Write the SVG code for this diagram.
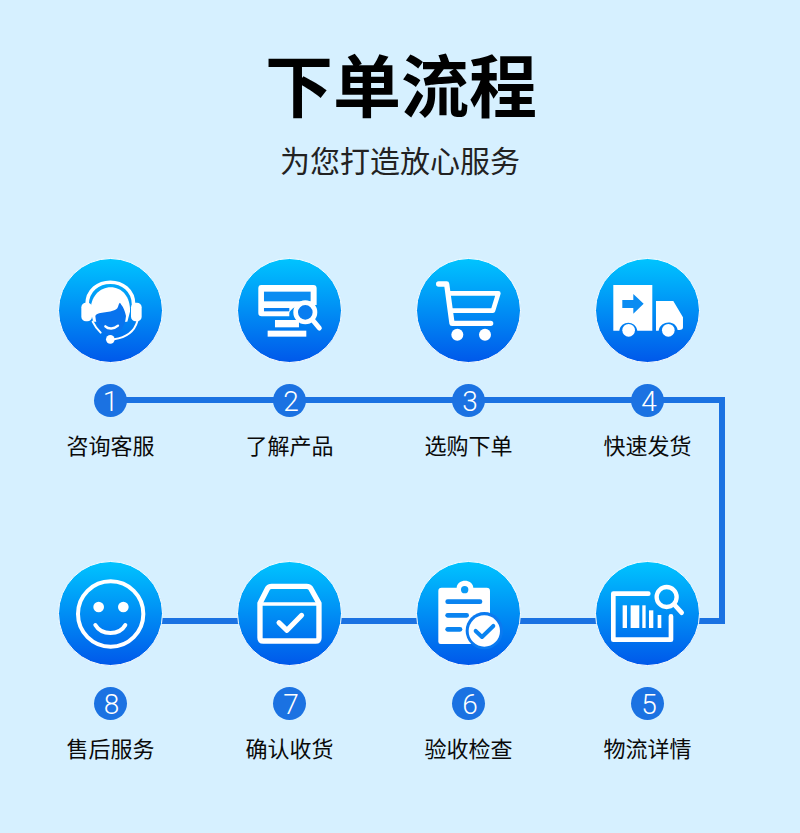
<svg xmlns="http://www.w3.org/2000/svg" width="800" height="833" viewBox="0 0 800 833">
<defs>
<linearGradient id="g" x1="0" y1="0" x2="0" y2="1"><stop offset="0" stop-color="#00c4ff"/><stop offset="1" stop-color="#0058ea"/></linearGradient>
</defs>
<style>
.big{fill:url(#g);stroke:#fff;stroke-width:1}
.num{fill:#1b72e2}
.n{font-family:"Roboto",sans-serif;font-weight:300;font-size:28px;fill:#fff;text-anchor:middle}
.l{font-family:"Noto Sans CJK SC",sans-serif;font-size:22px;fill:#0a0a0a;text-anchor:middle}
.w{fill:#fff}
.s{fill:none;stroke:#fff;stroke-linecap:round;stroke-linejoin:round}
.b{fill:none;stroke:#0a84f0;stroke-linecap:round;stroke-linejoin:round}
</style>
<rect width="800" height="833" fill="#d6f0ff"/>
<text x="401" y="112" text-anchor="middle" font-family="'Noto Sans CJK SC',sans-serif" font-weight="700" font-size="68" fill="#000">下单流程</text>
<text x="400" y="172" text-anchor="middle" font-family="'Noto Sans CJK SC',sans-serif" font-weight="400" font-size="30" fill="#222">为您打造放心服务</text>
<g id="connectors" fill="none" stroke="#1b72e2" stroke-width="6">
<path d="M110 400H722V621H110"/>
</g>
<g id="node1"><circle class="big" cx="110.500" cy="310.500" r="52"/>
<g transform="translate(40,240) scale(.3333)">
<path class="s" stroke-width="11" d="M141 195C141 104 281 104 281 195"/>
<rect class="w" x="124" y="188" width="32" height="56" rx="14"/><rect class="w" x="273" y="188" width="32" height="56" rx="14"/>
<path class="w" d="M152 215C150 170 180 142 212 142C245 142 272 170 270 215L262 245L160 245Z"/>
<path fill="#0873ee" d="M166 228C175 212 215 222 232 205C236 197 236 190 240 188C245 196 254 205 258 228C256 264 232 286 211 286C190 286 168 264 166 228Z"/>
<path class="s" stroke-width="7" d="M196 259C205 268 222 268 234 257"/>
<path class="s" stroke-width="6" d="M292 244C282 280 255 293 222 298"/>
<circle class="w" cx="211" cy="298" r="13"/>
<path class="s" stroke-width="6" d="M158 245C164 258 172 268 182 278"/>
</g></g>
<g id="node2"><circle class="big" cx="289.500" cy="310.500" r="52"/>
<g transform="translate(40,240) scale(.3333)">
<path class="w" d="M664 135H820Q830 135 830 145V195H790C770 195 755 205 748 218V229H665Q655 229 655 219V145Q655 135 664 135Z"/>
<rect x="672" y="155" width="140" height="29" fill="#0a8cf2"/>
<rect x="672" y="204" width="76" height="10" fill="#0a7ff0"/>
<rect class="w" x="705" y="240" width="72" height="22"/>
<rect class="w" x="683" y="272" width="116" height="18"/>
<circle cx="796" cy="217" r="29" fill="#0a7df0" stroke="#fff" stroke-width="14"/>
<path class="s" stroke-width="15" d="M818 240L838 264" stroke-linecap="butt"/>
</g></g>
<g id="node3"><circle class="big" cx="468.500" cy="310.500" r="52"/>
<g transform="translate(400,240) scale(.3333)">
<path class="s" stroke-width="16" d="M116 132H140L156 250H272"/>
<path class="s" stroke-width="14" d="M148 160H295L279 212H156"/>
<circle class="w" cx="172" cy="284" r="18"/><circle class="w" cx="255" cy="284" r="18"/>
</g></g>
<g id="node4"><circle class="big" cx="647.500" cy="310.500" r="52"/>
<g transform="translate(400,240) scale(.3333)">
<path class="w" d="M640 135H757V272H712C708 240 662 240 658 272H640Z"/>
<path class="w" d="M768 183H820L849 232V262Q849 270 838 270H833C828 240 782 240 776 272H768Z"/>
<circle class="w" cx="686" cy="271" r="19"/><circle class="w" cx="805" cy="271" r="19"/>
<path fill="#0a8cf2" d="M667 180H700V162L731 191L700 221V204H667Z"/>
</g></g>
<g id="node5"><circle class="big" cx="647.500" cy="613.500" r="52"/>
<g transform="translate(400,545) scale(.3333)">
<path class="s" stroke-width="14" d="M745 146H640V284H813V214"/>
<g class="w"><rect x="668" y="181" width="13" height="68"/><rect x="692" y="181" width="26" height="68"/><rect x="727" y="181" width="10" height="68"/><rect x="747" y="196" width="13" height="53"/><rect x="773" y="210" width="11" height="39"/></g>
<circle cx="800" cy="156" r="30" fill="none" stroke="#fff" stroke-width="13"/>
<path class="s" stroke-width="14" d="M824 180L845 203"/>
</g></g>
<g id="node6"><circle class="big" cx="468.500" cy="613.500" r="52"/>
<g transform="translate(400,545) scale(.3333)">
<path class="w" d="M125 128H170C172 100 218 100 220 128H260Q270 128 270 138V290Q270 297 262 297H122Q115 297 115 290V138Q115 128 125 128Z"/>
<circle cx="194" cy="134" r="11" fill="#0a9bf5"/>
<g class="b" stroke-width="14" stroke="#0a8cf2"><path d="M143 170H240"/><path d="M143 211H200"/><path d="M143 253H180"/></g>
<circle cx="253" cy="257" r="56" fill="#0a7af0"/>
<circle class="w" cx="253" cy="258" r="47"/>
<path class="b" stroke-width="12" d="M227 258L246 276L280 243"/>
</g></g>
<g id="node7"><circle class="big" cx="289.500" cy="613.500" r="52"/>
<g transform="translate(40,545) scale(.3333)">
<path class="s" stroke-width="16" d="M660 175L683 130Q687 124 695 124H800Q808 124 812 130L837 175V278Q837 288 827 288H670Q660 288 660 278Z"/>
<path class="s" stroke-width="11" d="M662 177H836"/>
<path class="s" stroke-width="15" d="M717 233L741 256L785 211"/>
</g></g>
<g id="node8"><circle class="big" cx="110.500" cy="613.500" r="52"/>
<g transform="translate(40,545) scale(.3333)">
<circle cx="212" cy="207" r="98" fill="none" stroke="#fff" stroke-width="12"/>
<circle class="w" cx="176" cy="186" r="16"/><circle class="w" cx="250" cy="186" r="16"/>
<path class="s" stroke-width="12" d="M166 240C185 272 238 272 256 240"/>
</g></g>
<g id="labels">
<g id="n1"><circle class="num" cx="110.500" cy="400.500" r="16.500"/><text class="n" x="110.500" y="410.500">1</text><text class="l" x="110.500" y="454">咨询客服</text></g>
<g id="n2"><circle class="num" cx="289.500" cy="400.500" r="16.500"/><text class="n" x="291" y="410.500">2</text><text class="l" x="289.500" y="454">了解产品</text></g>
<g id="n3"><circle class="num" cx="468.500" cy="400.500" r="16.500"/><text class="n" x="470" y="410.500">3</text><text class="l" x="468.500" y="454">选购下单</text></g>
<g id="n4"><circle class="num" cx="647.500" cy="400.500" r="16.500"/><text class="n" x="649" y="410.500">4</text><text class="l" x="647.500" y="454">快速发货</text></g>
<g id="n5"><circle class="num" cx="647.500" cy="703.500" r="16.500"/><text class="n" x="649" y="713.500">5</text><text class="l" x="647.500" y="757">物流详情</text></g>
<g id="n6"><circle class="num" cx="468.500" cy="703.500" r="16.500"/><text class="n" x="470" y="713.500">6</text><text class="l" x="468.500" y="757">验收检查</text></g>
<g id="n7"><circle class="num" cx="289.500" cy="703.500" r="16.500"/><text class="n" x="291" y="713.500">7</text><text class="l" x="289.500" y="757">确认收货</text></g>
<g id="n8"><circle class="num" cx="110.500" cy="703.500" r="16.500"/><text class="n" x="111.500" y="713.500">8</text><text class="l" x="110.500" y="757">售后服务</text></g>
</g>
</svg>
